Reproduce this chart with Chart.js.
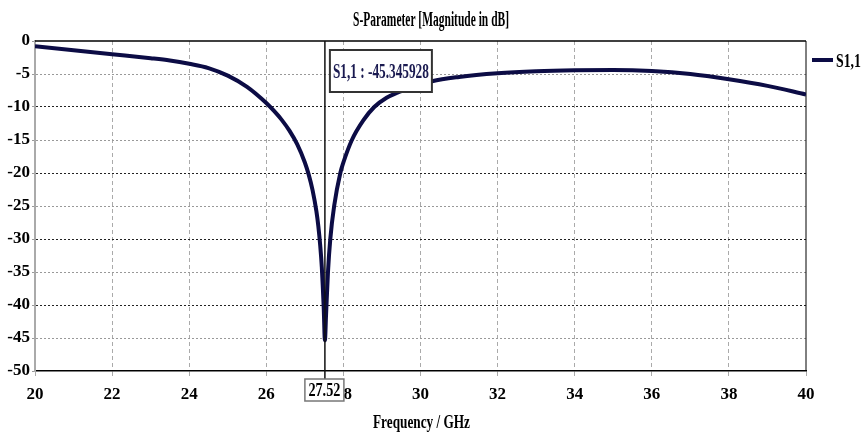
<!DOCTYPE html>
<html>
<head>
<meta charset="utf-8">
<script src="https://cdn.jsdelivr.net/npm/chart.js@4/dist/chart.umd.min.js"></script>
<style>
html,body{margin:0;padding:0;background:#fff;}
#wrap{width:863px;height:434px;}
</style>
</head>
<body>
<div id="wrap"><canvas id="c" width="863" height="434"></canvas></div>
<script>
// ---- data ----
const chartTitle = "S-Parameter [Magnitude in dB]";
const xTitle = "Frequency / GHz";
const seriesName = "S1,1";
const freqGHz = [20, 21, 22, 23, 23.5, 24, 24.5, 25, 25.5, 26, 26.2, 26.4, 26.6, 26.8, 27.0, 27.1, 27.2, 27.3, 27.35, 27.4, 27.44, 27.47, 27.49, 27.52,
                 27.55, 27.6, 27.66, 27.76, 27.92, 28.0, 28.22, 28.52, 28.8, 29.12, 29.37, 29.66, 30.3, 31, 32, 33, 34, 35, 36, 37, 38, 39, 40];
const s11dB   = [-0.8, -1.4, -2.0, -2.6, -2.95, -3.45, -4.1, -5.25, -6.95, -9.4, -10.6, -11.95, -13.59, -15.64, -18.41, -20.25, -22.59, -25.82, -28.06, -31.09, -34.26, -37.84, -40.5, -45.345928,
                 -41.5, -35, -30, -25, -20, -18.4, -15, -12.0, -10, -8.6, -7.9, -7.3, -6.1, -5.45, -4.9, -4.6, -4.45, -4.4, -4.55, -5.0, -5.8, -6.8, -8.1];
const xTicks = {min: 20, max: 40, step: 2};
const yTicks = {min: -50, max: 0, step: 5};
const markerFreq = 27.52;
const markerLabel = "27.52";
const markerValueText = "S1,1 : -45.345928";

const lineColor = '#0c0c45';
const fontFam = '"Liberation Serif", "Times New Roman", serif';

function condensedText(ctx, text, x, y, size, targetW, align, color) {
  ctx.save();
  ctx.font = 'bold ' + size + 'px ' + fontFam;
  ctx.fillStyle = color || '#000';
  ctx.textBaseline = 'alphabetic';
  const w = ctx.measureText(text).width;
  const sx = targetW / w;
  ctx.translate(x, y);
  ctx.scale(sx, 1);
  ctx.textAlign = align || 'center';
  ctx.fillText(text, 0, 0);
  ctx.restore();
}

const overlay = {
  id: 'overlay',
  beforeDatasetsDraw(chart) {
    const {ctx, chartArea: a} = chart;
    ctx.save();
    ctx.strokeStyle = '#000';
    ctx.lineWidth = 1.5;
    ctx.beginPath();
    ctx.moveTo(a.left, a.top); ctx.lineTo(a.right, a.top);
    ctx.stroke();
    ctx.lineWidth = 1;
    ctx.beginPath();
    ctx.moveTo(a.right, a.top); ctx.lineTo(a.right, a.bottom);
    ctx.stroke();
    ctx.restore();
  },
  afterDatasetsDraw(chart) {
    const {ctx, chartArea: a, scales} = chart;
    const mx = scales.x.getPixelForValue(markerFreq);
    ctx.save();
    ctx.strokeStyle = '#111';
    ctx.lineWidth = 1.5;
    ctx.beginPath();
    ctx.moveTo(mx, a.top); ctx.lineTo(mx, a.bottom + 8);
    ctx.stroke();
    // value box
    const bx = mx + 5, by = a.top + 9, bw = 102, bh = 42;
    ctx.fillStyle = '#fff';
    ctx.fillRect(bx, by, bw, bh);
    ctx.strokeStyle = '#333';
    ctx.lineWidth = 2;
    ctx.strokeRect(bx, by, bw, bh);
    condensedText(ctx, markerValueText, bx + bw / 2, by + 28, 20, 96, 'center', '#1a1a50');
    // x label box
    const lx = mx - 20, ly = a.bottom + 8, lw = 39, lh = 22;
    ctx.fillStyle = '#fff';
    ctx.fillRect(lx, ly, lw, lh);
    ctx.strokeStyle = '#777';
    ctx.lineWidth = 1.5;
    ctx.strokeRect(lx, ly, lw, lh);
    condensedText(ctx, markerLabel, lx + lw / 2, ly + 17, 18, 32, 'center', '#000');
    // title
    condensedText(ctx, chartTitle, 431, 26, 20, 156, 'center', '#000');
    // x axis title
    condensedText(ctx, xTitle, (a.left + a.right) / 2 + 1, 428, 19, 97, 'center', '#000');
    // legend
    ctx.strokeStyle = lineColor;
    ctx.lineWidth = 4;
    ctx.beginPath();
    ctx.moveTo(812, 60); ctx.lineTo(833, 60);
    ctx.stroke();
    condensedText(ctx, seriesName, 836, 67, 19, 25, 'left', '#000');
    ctx.restore();
  }
};

const pts = freqGHz.map((f, i) => ({x: f, y: s11dB[i]}));

new Chart(document.getElementById('c'), {
  type: 'line',
  data: {
    datasets: [{
      label: seriesName,
      data: pts,
      borderColor: lineColor,
      backgroundColor: lineColor,
      borderWidth: 4,
      pointRadius: 0,
      cubicInterpolationMode: 'monotone',
      fill: false
    }]
  },
  options: {
    responsive: false,
    animation: false,
    devicePixelRatio: 1,
    layout: {padding: {left: 0, top: 41, right: 57, bottom: 0}},
    plugins: {legend: {display: false}, title: {display: false}, tooltip: {enabled: false}},
    scales: {
      x: {
        type: 'linear',
        min: xTicks.min, max: xTicks.max,
        afterFit(s) { s.height = 63; },
        ticks: {
          stepSize: xTicks.step, padding: 8, color: '#000',
          font: {family: fontFam, size: 17, weight: 'bold'},
          maxRotation: 0
        },
        grid: {
          color: c => (c.tick && (c.tick.value === xTicks.min || c.tick.value === xTicks.max)) ? 'rgba(0,0,0,0)' : '#aaa',
          tickColor: '#aaa',
          tickLength: 5,
          lineWidth: 1
        },
        border: {display: true, color: '#000', width: 1.5, dash: [4, 3]}
      },
      y: {
        min: yTicks.min, max: yTicks.max,
        afterFit(s) { s.width = 35; },
        ticks: {
          stepSize: yTicks.step, padding: 2, color: '#000',
          font: {family: fontFam, size: 17, weight: 'bold'}
        },
        grid: {
          color: c => {
            if (!c.tick) return '#999';
            const v = c.tick.value;
            if (v === yTicks.min || v === yTicks.max) return 'rgba(0,0,0,0)';
            return (v % 10 === 0) ? '#222' : '#999';
          },
          tickColor: '#999',
          tickLength: 3,
          lineWidth: 1
        },
        border: {display: true, color: '#aaa', width: 2, dash: [2, 2]}
      }
    }
  },
  plugins: [overlay]
});
</script>
</body>
</html>
